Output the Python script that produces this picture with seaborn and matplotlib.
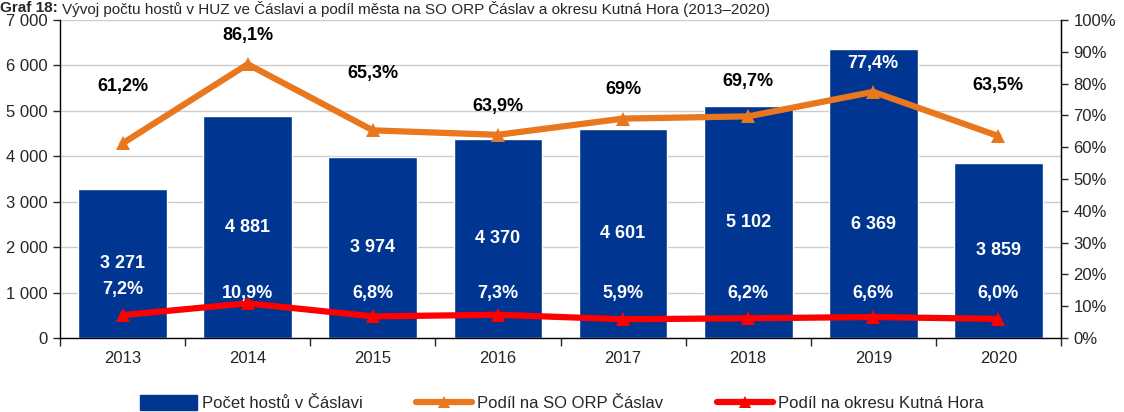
import numpy as np
import pandas as pd
import matplotlib
matplotlib.use("Agg")
import matplotlib.pyplot as plt
import seaborn as sns
from matplotlib.lines import Line2D
from matplotlib.patches import Patch
from matplotlib.ticker import FuncFormatter, MultipleLocator

years = ["2013", "2014", "2015", "2016", "2017", "2018", "2019", "2020"]
guests = [3271, 4881, 3974, 4370, 4601, 5102, 6369, 3859]
share_orp = [61.2, 86.1, 65.3, 63.9, 69.0, 69.7, 77.4, 63.5]
share_orp_labels = ["61,2%", "86,1%", "65,3%", "63,9%", "69%", "69,7%", "77,4%", "63,5%"]
share_okres = [7.2, 10.9, 6.8, 7.3, 5.9, 6.2, 6.6, 6.0]
share_okres_labels = ["7,2%", "10,9%", "6,8%", "7,3%", "5,9%", "6,2%", "6,6%", "6,0%"]
legend_labels = ["Počet hostů v Čáslavi", "Podíl na SO ORP Čáslav", "Podíl na okresu Kutná Hora"]
title_bold = "Graf 18: "
title_rest = "Vývoj počtu hostů v HUZ ve Čáslavi a podíl města na SO ORP Čáslav a okresu Kutná Hora (2013–2020)"

NAVY = "#003591"
ORANGE = "#E8771E"
RED = "#FF0000"

sns.set_style("white")
plt.rcParams["font.family"] = ["Liberation Sans Narrow", "Liberation Sans", "DejaVu Sans"]

fig = plt.figure(figsize=(11.24, 4.12), dpi=100)
ax = fig.add_axes([60 / 1124, 74 / 412, 1001 / 1124, 318 / 412])

df = pd.DataFrame({"year": years, "guests": guests})
sns.barplot(data=df, x="year", y="guests", color=NAVY, width=0.71, ax=ax,
            saturation=1, zorder=2)
ax.set_xlim(-0.5, 7.5)
ax.set_ylim(0, 7000)
ax.yaxis.set_major_locator(MultipleLocator(1000))
ax.yaxis.set_major_formatter(FuncFormatter(lambda v, p: f"{int(v):,}".replace(",", " ")))
ax.set_xlabel("")
ax.set_ylabel("")
ax.grid(axis="y", color="#cccccc", linewidth=1, zorder=0)
ax.set_axisbelow(True)
ax.spines["top"].set_visible(False)
for s in ["left", "bottom", "right"]:
    ax.spines[s].set_color("black")
    ax.spines[s].set_linewidth(1)
ax.tick_params(axis="y", left=True, direction="out", length=5, width=1, labelsize=12, pad=4)
ax.tick_params(axis="x", bottom=False, labelsize=12, pad=6)
ax.set_xticks(np.arange(-0.5, 8, 1), minor=True)
ax.tick_params(axis="x", which="minor", bottom=True, length=6, width=1, direction="out")

for i, v in enumerate(guests):
    yc = v / 2 if i != 6 else 2500
    ax.text(i, yc, f"{v:,}".replace(",", " "), ha="center", va="center",
            color="white", fontsize=13, fontweight="bold", zorder=5)

ax2 = ax.twinx()
ax2.set_ylim(0, 100)
ax2.yaxis.set_major_locator(MultipleLocator(10))
ax2.yaxis.set_major_formatter(FuncFormatter(lambda v, p: f"{int(v)}%"))
ax2.tick_params(axis="y", right=True, direction="out", length=5, width=1, labelsize=12, pad=4)
for s in ["top", "left", "bottom"]:
    ax2.spines[s].set_visible(False)
ax2.spines["right"].set_color("black")
ax2.grid(False)

xs = np.arange(len(years))
sns.lineplot(x=xs, y=share_orp, ax=ax2, color=ORANGE, linewidth=4.5, marker="^",
             markersize=10, markeredgewidth=0, zorder=4)
sns.lineplot(x=xs, y=share_okres, ax=ax2, color=RED, linewidth=4.5, marker="^",
             markersize=10, markeredgewidth=0, zorder=4)
ax2.set_xlim(-0.5, 7.5)
ax2.set_ylabel("")

orp_dy = [18, 9, 18, 9, 9, 11, 9, 16]
for i, (v, lab) in enumerate(zip(share_orp, share_orp_labels)):
    col = "white" if i == 6 else "black"
    ax2.text(i, v + orp_dy[i], lab, ha="center", va="center", color=col,
             fontsize=13, fontweight="bold", zorder=6)

okres_y = [15.3, 14.0, 14.0, 14.0, 14.0, 14.0, 14.0, 14.0]
for i, lab in enumerate(share_okres_labels):
    ax2.text(i, okres_y[i], lab, ha="center", va="center", color="white",
             fontsize=13, fontweight="bold", zorder=6)

handles = [
    Patch(facecolor=NAVY, edgecolor=NAVY),
    Line2D([0], [0], color=ORANGE, linewidth=4.5, marker="^", markersize=9, markeredgewidth=0),
    Line2D([0], [0], color=RED, linewidth=4.5, marker="^", markersize=9, markeredgewidth=0),
]
fig.legend(handles, legend_labels, loc="center", bbox_to_anchor=(0.5, 9 / 412), ncol=3,
           frameon=False, fontsize=12, handlelength=3.4, handletextpad=0.3,
           columnspacing=3.2, handleheight=1.0)

t1 = fig.text(0.0, 1.0 - 1 / 412, title_bold, fontsize=11, fontweight="bold", va="top", ha="left")
fig.canvas.draw()
bb = t1.get_window_extent(fig.canvas.get_renderer())
fig.text(bb.x1 / fig.bbox.width, 1.0 - 1 / 412, title_rest, fontsize=11, va="top", ha="left")

fig.savefig("out.png", dpi=100)
